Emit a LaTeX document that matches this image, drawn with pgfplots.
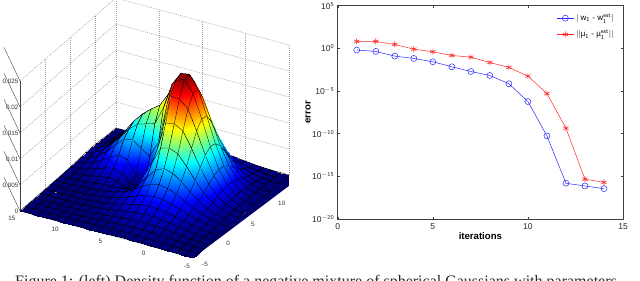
\documentclass[border=0pt]{standalone}
\usepackage{pgfplots}
\usepackage{pgfplotstable}
\usepackage{fontspec}
\setmainfont{Liberation Sans}
\newfontfamily\capfont{Liberation Serif}
\pgfplotsset{compat=1.18}
\definecolor{floorblue}{rgb}{0,0,0.42}
\begin{document}
\begin{tikzpicture}[x=1pt,y=1pt]
\path[use as bounding box,clip] (0,0) rectangle (640,281);
\begin{axis}[
  at={(175pt,56.6pt)},anchor=origin,
  x={(5.05pt,4.37pt)},y={(-8.65pt,2.35pt)},z={(0pt,5200pt)},
  xmin=-5,xmax=14,ymin=-5,ymax=15,zmin=0,zmax=0.025,
  xtick={-5,0,5,10},ytick={-5,0,5,10,15},ztick={0,0.005,0.01,0.015,0.02,0.025},
  xticklabels={},yticklabels={},zticklabels={},
  scaled ticks=false,
  tick style={draw=none},
  axis line style={draw=none},
  grid=major,
  grid style={dash pattern=on 1pt off 1pt,gray!75,line width=0.5pt},
  clip=false,
  colormap={mj}{rgb=(0,0,0.45) rgb=(0,0,1) rgb=(0,0.5,1) rgb=(0,1,1) rgb=(0.5,1,0.5) rgb=(1,1,0) rgb=(1,0.5,0) rgb=(1,0,0) rgb=(0.5,0,0)},
  point meta min=0,point meta max=0.0208,
]
\addplot3[fill=floorblue,draw=none] coordinates {(-5,-5,0) (14,-5,0) (14,-5,-0.0021)};
\addplot3[surf,shader=faceted interp,faceted color=black,line width=0.3pt,
  mesh/rows=21,mesh/cols=20,mesh/ordering=y varies,point meta=z,z buffer=sort]
 table[row sep=\\,x expr={floor(\coordindex/21)-5},y expr={mod(\coordindex,21)-5},z expr={\thisrow{z}/10000}] {
z\\
.1\\.2\\.3\\.5\\.8\\1.1\\1.3\\1.5\\1.5\\1.3\\1.1\\.8\\.5\\.3\\.2\\.1\\0\\0\\0\\0\\0\\
.2\\.4\\.7\\1.1\\1.6\\2.2\\2.7\\3\\3\\2.7\\2.2\\1.6\\1.1\\.7\\.4\\.2\\.1\\0\\0\\0\\0\\
.3\\.7\\1.2\\2\\3\\4\\4.9\\5.4\\5.4\\4.9\\4\\3\\2\\1.2\\.7\\.3\\.1\\.1\\0\\0\\0\\
.5\\1.1\\2\\3.3\\4.9\\6.8\\8.2\\9.2\\9.2\\8.3\\6.9\\5\\3.3\\2\\1.1\\.5\\.2\\.1\\0\\0\\0\\
.8\\1.6\\3\\5\\7.6\\10.4\\12.8\\14.2\\14.4\\13.2\\10.8\\8\\5.3\\3.2\\1.7\\.8\\.4\\.1\\0\\0\\0\\
1.1\\2.2\\4.1\\6.9\\10.6\\14.7\\18.5\\20.9\\21.3\\19.6\\16.2\\12\\7.9\\4.7\\2.5\\1.2\\.5\\.2\\0\\0\\0\\
1.3\\2.8\\5.3\\9.1\\14.2\\20.2\\25.8\\30\\31.2\\29.1\\23.8\\17.3\\11.5\\7\\4.1\\2.2\\1.1\\.4\\.1\\0\\0\\
1.6\\3.3\\6.4\\11.4\\18.4\\27.2\\36.3\\43.3\\46\\42.5\\33.5\\22.9\\14.3\\8.9\\5.9\\3.7\\2.1\\1.1\\.4\\.2\\.1\\
1.7\\3.7\\7.5\\14\\23.9\\37.2\\52\\64\\68.5\\61\\42.9\\22.8\\10.7\\7.5\\7.5\\6.4\\4.3\\2.5\\1.1\\.5\\.2\\
1.7\\4\\8.6\\17.2\\31.2\\51\\73.6\\93.2\\99.7\\95\\62\\10.9\\0\\.2\\9\\11.3\\8.9\\5.4\\2.6\\1.1\\.4\\
1.7\\4.3\\9.8\\20.7\\39.6\\67.4\\100\\128.7\\137.7\\135\\78\\0\\0\\0\\14.7\\21.1\\17.1\\10.7\\5.4\\2.3\\.9\\
1.6\\4.4\\10.8\\23.9\\47.4\\82.6\\124.9\\163\\177.2\\178\\105\\10.8\\0\\9\\32.5\\37.8\\29.5\\18.3\\9.4\\4.1\\1.6\\
1.5\\4.3\\11.1\\25.4\\51.3\\91\\139.4\\184.3\\206\\200\\150\\72\\40.6\\50.8\\63.3\\59.4\\43.8\\27\\13.9\\6.1\\2.3\\
1.3\\3.9\\10.3\\24.1\\49.4\\88.4\\136.6\\183.8\\208\\205\\180\\130\\95\\90\\85\\71\\51\\34\\17.6\\7.8\\3\\
1\\3.2\\8.5\\20.1\\41.6\\75\\116.4\\157.4\\185\\193\\178\\148.5\\122\\110\\96\\78\\55\\33\\19\\8.5\\3.2\\
.7\\2.3\\6.1\\14.6\\30.5\\55.3\\86.1\\117.1\\139.5\\147.5\\142.5\\131.9\\113\\102\\89\\71\\50\\30\\17.6\\7.8\\3\\
.4\\1.4\\3.9\\9.4\\19.5\\35.3\\55.2\\75.4\\90.8\\98\\98.1\\95.1\\85\\78\\69\\55\\39\\24\\13.8\\6.1\\2.3\\
.2\\.7\\2.2\\5.1\\10.7\\19.3\\30.5\\41.4\\49.5\\53\\52.3\\50\\46.3\\42.6\\37\\29\\20.8\\12.3\\6.2\\2.8\\1\\
.1\\.3\\1\\2.4\\5\\9.2\\14.5\\19.9\\23.1\\24.4\\23.5\\21.4\\19\\16.7\\14.1\\10.9\\7.5\\4.6\\2.3\\1\\.4\\
0\\.1\\.4\\1\\2.1\\3.8\\5.9\\7.9\\9.4\\9.7\\9.1\\7.8\\6.5\\5.2\\4.1\\3.1\\2.1\\1.2\\.6\\.3\\.1\\
};
\draw[black!75,line width=0.5pt] (axis cs:-5,15,0) -- (axis cs:-5,15,0.025);
\foreach \v/\l in {0/0,0.005/0.005,0.01/0.01,0.015/0.015,0.02/0.02,0.025/0.025}{
  \edef\tmp{\noexpand\draw[black!75,line width=0.4pt] (axis cs:-5,15,\v) -- ++(2pt,0);
  \noexpand\node[anchor=east,inner sep=0pt,font=\noexpand\fontsize{6.3}{7}\noexpand\selectfont,text=black!80] at ([xshift=-1.5pt]axis cs:-5,15,\v) {\l};}\tmp
}
\foreach \v/\dx/\dy in {-5/12/-6,0/10/-7,5/9.5/-10,10/13/-10.5}{
  \edef\tmp{\noexpand\node[inner sep=0pt,font=\noexpand\fontsize{6.3}{7}\noexpand\selectfont,text=black!80] at ([xshift=\dx pt,yshift=\dy pt]axis cs:\v,-5,0) {\v};}\tmp
}
\foreach \v/\dx/\dy in {15/-8/-7,10/-8/-7,5/-6/-7,0/-6/-7.5,-5/-6/-8}{
  \edef\tmp{\noexpand\node[inner sep=0pt,font=\noexpand\fontsize{6.3}{7}\noexpand\selectfont,text=black!80] at ([xshift=\dx pt,yshift=\dy pt]axis cs:-5,\v,0) {\v};}\tmp
}
\end{axis}
\begin{axis}[
  at={(337.7pt,62pt)},anchor=south west,scale only axis,
  width=285.3pt,height=213.3pt,
  xmin=0,xmax=15,ymin=1e-20,ymax=1e5,ymode=log,
  xtick={0,5,10,15},ytick={1e5,1,1e-5,1e-10,1e-15,1e-20},
  yticklabels={10$^{\mathsf{5}}$,10$^{\mathsf{0}}$,10$^{\mathsf{-5}}$,10$^{\mathsf{-10}}$,10$^{\mathsf{-15}}$,10$^{\mathsf{-20}}$},
  minor y tick num=0,
  tick align=inside,tick pos=both,major tick length=2.5pt,
  axis line style={black!75,line width=0.6pt},tick style={black!75,line width=0.4pt},
  tick label style={font=\fontsize{8.5}{9}\selectfont,text=black!85},
  xticklabel style={yshift=-1.5pt},
  /pgf/number format/assume math mode=true,
  xlabel={\textbf{iterations}},ylabel={\textbf{error}},
  label style={font=\fontsize{9.6}{10}\selectfont},
  xlabel style={at={(axis description cs:0.5,0)},anchor=base,yshift=-20.5pt},
  ylabel style={at={(axis description cs:0,0.5)},anchor=base,yshift=27pt},
  legend style={at={(0.975,0.97)},anchor=north east,draw=none,fill=none,
    font=\fontsize{8}{9}\selectfont,row sep=4.5pt,inner sep=0pt},
  legend cell align=left,
]
\addplot[blue!85,line width=0.5pt,mark=o,mark size=3pt,mark options={solid,line width=0.5pt}] coordinates {
 (1,0.63)(2,0.44)(3,0.123)(4,0.066)(5,0.027)(6,6.9e-3)(7,1.95e-3)(8,6.6e-4)(9,7.1e-5)(10,5.9e-7)(11,5.5e-11)(12,1.55e-16)(13,7.4e-17)(14,3.6e-17)};
\addlegendentry{$|$ w$_{\mathsf 1}$ - w$_{\mathsf 1}^{\mathsf{est}}$$|$}
\addplot[red!85,line width=0.5pt,mark=asterisk,mark size=3pt,mark options={solid,line width=0.6pt}] coordinates {
 (1,6.5)(2,6.5)(3,2.9)(4,0.81)(5,0.4)(6,0.148)(7,0.093)(8,0.022)(9,5.8e-3)(10,5.6e-4)(11,5.1e-6)(12,4.4e-10)(13,4.6e-16)(14,2e-16)};
\addlegendentry{$||$µ$_{\mathsf 1}$ - µ$_{\mathsf 1}^{\mathsf{est}}$$||$}
\end{axis}
\node[anchor=base west,inner sep=0pt,font=\capfont\fontsize{16}{18}\selectfont,text=black!85] at (15,-5.2)
 {Figure 1: (left) Density function of a negative mixture of spherical Gaussians with parameters};
\end{tikzpicture}
\end{document}
